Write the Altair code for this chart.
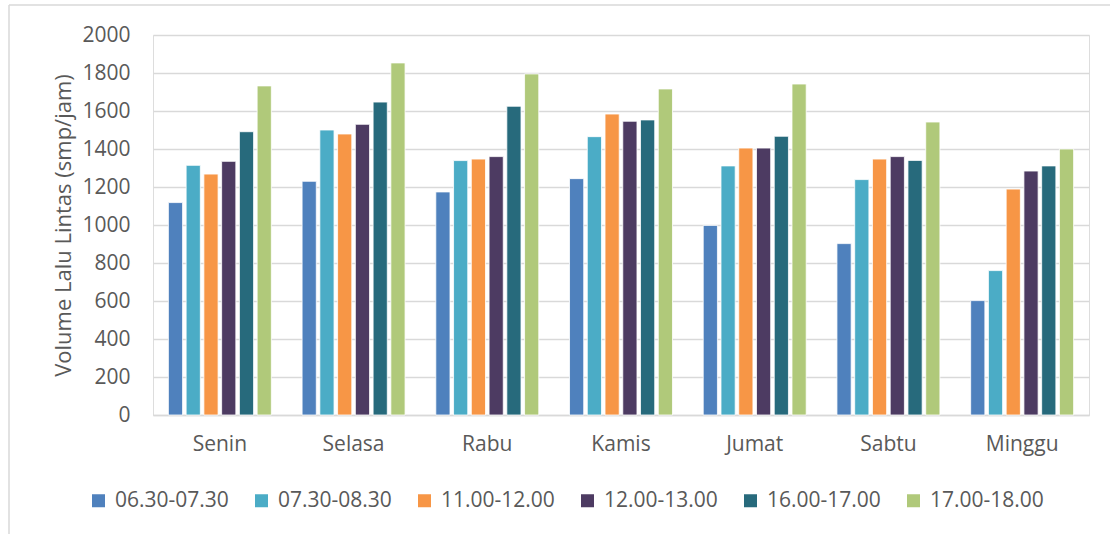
import altair as alt
import pandas as pd

# Traffic volume per day, one list per time slot (smp/jam)
days = ["Senin", "Selasa", "Rabu", "Kamis", "Jumat", "Sabtu", "Minggu"]
slots = ["06.30-07.30", "07.30-08.30", "11.00-12.00", "12.00-13.00", "16.00-17.00", "17.00-18.00"]

v_0630 = [1118, 1230, 1174, 1244, 998, 902, 602]
v_0730 = [1314, 1500, 1339, 1465, 1311, 1239, 760]
v_1100 = [1268, 1479, 1347, 1584, 1405, 1347, 1189]
v_1200 = [1335, 1530, 1360, 1546, 1405, 1360, 1284]
v_1600 = [1491, 1647, 1625, 1553, 1467, 1340, 1311]
v_1700 = [1732, 1853, 1795, 1716, 1742, 1542, 1400]

colors = ["#4F81BD", "#4BACC6", "#F79646", "#4D3B62", "#276A7C", "#B0C97A"]

series = [v_0630, v_0730, v_1100, v_1200, v_1600, v_1700]
rows = []
for slot, values in zip(slots, series):
    for day, v in zip(days, values):
        rows.append({"Hari": day, "Jam": slot, "Volume": v})
df = pd.DataFrame(rows)

FONT = "Open Sans"
TEXT = "#595959"
GRID = "#D9D9D9"

bars = alt.Chart(df).mark_bar(stroke="white", strokeWidth=0.8).encode(
    x=alt.X(
        "Hari:N",
        sort=days,
        scale=alt.Scale(paddingInner=0.23, paddingOuter=0.115),
        axis=alt.Axis(
            title=None, labelAngle=0, ticks=False, domain=True, domainColor=GRID,
            domainWidth=1.5, labelPadding=18, labelFontSize=21, labelFont=FONT,
            labelColor=TEXT,
        ),
    ),
    xOffset=alt.XOffset("Jam:N", sort=slots, scale=alt.Scale(paddingInner=0.2, paddingOuter=0)),
    y=alt.Y(
        "Volume:Q",
        scale=alt.Scale(domain=[0, 2000], nice=False),
        axis=alt.Axis(
            title="Volume Lalu Lintas (smp/jam)", values=list(range(0, 2001, 200)),
            format="d", ticks=False, domain=False, gridColor=GRID, gridWidth=1.5,
            labelPadding=23, labelFontSize=21, labelFont=FONT, labelColor=TEXT,
            titleFontSize=22, titleFont=FONT, titleColor=TEXT, titleFontWeight="normal",
            titlePadding=6,
        ),
    ),
    color=alt.Color(
        "Jam:N",
        sort=slots,
        scale=alt.Scale(domain=slots, range=colors),
        legend=alt.Legend(
            title=None, orient="none", legendX=-65, legendY=455, direction="horizontal",
            columns=6, columnPadding=22, symbolType="square", symbolSize=169,
            symbolStrokeWidth=0, labelOffset=6, labelFontSize=21, labelFont=FONT,
            labelColor=TEXT, labelLimit=200,
        ),
    ),
)

# thin outer frame on the left and top edges
frame = pd.DataFrame({"k": [0]})
left_edge = alt.Chart(frame).mark_rule(color=GRID, strokeWidth=1.5).encode(
    x=alt.value(-144), y=alt.value(-30), y2=alt.value(499)
)
top_edge = alt.Chart(frame).mark_rule(color=GRID, strokeWidth=1.5).encode(
    x=alt.value(-144), x2=alt.value(957), y=alt.value(-30)
)

chart = alt.layer(bars, left_edge, top_edge).properties(
    width=936,
    height=380,
    autosize=alt.AutoSizeParams(type="none"),
    padding={"left": 153, "top": 35, "right": 21, "bottom": 119},
).configure_view(stroke=None).configure(background="white")

chart.save("out.html", embed_options={"renderer": "svg", "actions": False})
